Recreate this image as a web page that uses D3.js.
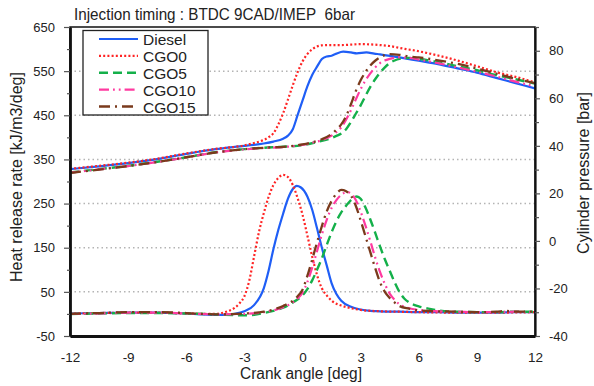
<!DOCTYPE html>
<html>
<head>
<meta charset="utf-8">
<script src="https://cdn.jsdelivr.net/npm/d3@7"></script>
<style>
  html, body { margin: 0; padding: 0; background: #fff; }
  svg { display: block; font-family: Arial, "Liberation Sans", sans-serif; }
</style>
</head>
<body>
<svg id="chart" width="594" height="386"></svg>
<script>
// ---- Data: crank angle [deg] vs heat release rate [kJ/m3/deg] ----
const seriesNames = ["Diesel", "CGO0", "CGO5", "CGO10", "CGO15"];

const hrrDiesel = [[-12,1],[-10.5,2],[-9,3],[-7.5,3],[-6,1],[-4.5,-2],[-4,-2],[-3.5,0],[-3,6],[-2.5,20],[-2,58],[-1.75,98],[-1.5,147],[-1.25,190],[-1,227],[-0.75,261],[-0.5,283],[-0.3,290],[-0.1,287],[0.25,266],[0.5,236],[0.75,194],[1,150],[1.25,110],[1.5,70],[1.75,45],[2,30],[2.5,16],[3,10],[3.5,7],[4,6],[5,5],[6,4],[7,4],[8,3],[9,3],[10,3],[11,4],[12,4]];
const hrrCGO0 = [[-12,1],[-10.5,2],[-9,3],[-7.5,3],[-6,1],[-4.5,0],[-4,4],[-3.75,8],[-3.5,14],[-3.25,24],[-3,40],[-2.75,75],[-2.5,130],[-2.25,185],[-2,228],[-1.75,265],[-1.5,292],[-1.25,308],[-1,315],[-0.75,310],[-0.5,292],[-0.25,262],[0,225],[0.25,178],[0.5,130],[0.75,88],[1,58],[1.25,42],[1.5,30],[2,19],[2.5,13],[3,9],[4,6],[5,5],[6,4],[8,3],[10,3],[12,4]];
const hrrCGO5 = [[-12,0],[-10.5,1],[-9,2],[-7.5,2],[-6,1],[-4.5,-1],[-3,-3],[-2.5,-2],[-2,2],[-1.5,7],[-1,14],[-0.5,26],[0,42],[0.25,56],[0.5,76],[0.75,100],[1,126],[1.25,156],[1.5,185],[1.75,210],[2,230],[2.25,245],[2.5,258],[2.8,266],[3,261],[3.25,241],[3.5,214],[3.75,184],[4,153],[4.25,124],[4.5,98],[4.75,72],[5,50],[5.25,35],[5.5,26],[6,17],[6.5,12],[7,8],[8,5],[9,4],[10,4],[11,5],[12,5]];
const hrrCGO10 = [[-12,0],[-10.5,1],[-9,3],[-7.5,3],[-6,1],[-4.5,-1],[-3,0],[-2,4],[-1.5,8],[-1,15],[-0.5,26],[-0.25,35],[0,48],[0.25,72],[0.5,105],[0.75,142],[1,180],[1.25,213],[1.5,240],[1.75,258],[2,270],[2.3,276],[2.5,273],[2.75,258],[3,232],[3.25,200],[3.5,165],[3.75,128],[4,95],[4.25,68],[4.5,46],[4.75,32],[5,22],[5.5,13],[6,9],[7,6],[8,5],[9,4],[10,4],[11,5],[12,4]];
const hrrCGO15 = [[-12,0],[-10.5,2],[-9,4],[-7.5,4],[-6,2],[-4.5,-1],[-3,1],[-2,5],[-1.5,10],[-1,18],[-0.5,30],[-0.25,40],[0,55],[0.25,86],[0.5,123],[0.75,162],[1,199],[1.25,232],[1.5,256],[1.75,272],[2,281],[2.25,278],[2.5,268],[2.75,245],[3,212],[3.25,176],[3.5,140],[3.75,104],[4,72],[4.25,50],[4.5,36],[4.75,26],[5,18],[5.5,12],[6,8],[7,6],[8,5],[9,4],[10,5],[10.5,7],[11,5],[12,5]];

// ---- Data: crank angle [deg] vs cylinder pressure [bar] ----
const pDiesel = [[-12,30.2],[-10.5,31.4],[-9,32.7],[-7.5,34.4],[-6,36.6],[-4.5,38.6],[-3,40],[-2,41],[-1.5,41.8],[-1,43],[-0.75,44.3],[-0.5,47],[-0.25,53],[0,59],[0.25,65],[0.5,69.8],[0.75,73.3],[1,76.5],[1.25,77.6],[1.5,77.9],[1.75,78.8],[2.1,79.6],[2.5,79.3],[2.8,78.9],[3.3,79.3],[3.7,78.8],[4,78.5],[5,77.2],[6,75.8],[7,74.4],[8,72.6],[9,70.8],[10,68.6],[11,66.4],[12,64.2]];
const pCGO0 = [[-12,30.3],[-10.5,31.6],[-9,32.9],[-7.5,34.6],[-6,36.8],[-4.5,38.7],[-3,40.2],[-2.5,41.2],[-2,42.5],[-1.75,43.6],[-1.5,45.3],[-1.25,49],[-1,53.7],[-0.75,59.5],[-0.5,65.5],[-0.25,71],[0,75.5],[0.25,78.6],[0.5,80.6],[0.75,81.8],[1,82.3],[1.5,82.4],[2,82.4],[3,82.8],[4,82.4],[4.5,82],[5,81.2],[6,79.8],[7,78],[8,75.9],[9,73.5],[10,71],[11,69],[12,66.7]];
const pCGO5 = [[-12,28.8],[-10.5,30.2],[-9,31.6],[-7.5,33.3],[-6,35.2],[-4.5,37.3],[-3,38.6],[-2,39.2],[-1,39.6],[0,40.3],[0.75,41.6],[1.25,42.6],[1.75,44.2],[2,45.2],[2.25,47],[2.5,50],[2.75,53.5],[3,57],[3.25,61],[3.5,64.8],[3.75,68],[4,70.8],[4.25,73],[4.5,74.8],[4.75,75.9],[5,76.6],[5.5,77],[6,76.6],[7,75.2],[8,73.5],[9,71.8],[10,69.8],[11,68],[12,66.2]];
const pCGO10 = [[-12,28.7],[-10.5,30.1],[-9,31.5],[-7.5,33.2],[-6,35.1],[-4.5,37.2],[-3,38.5],[-2,39.1],[-1,39.5],[0,40.4],[0.5,41.3],[1,42.4],[1.5,44.3],[1.75,45.8],[2,47.8],[2.25,51],[2.5,55],[2.75,59.5],[3,63.8],[3.25,67.5],[3.5,70.5],[3.75,73],[4,74.8],[4.5,76.6],[5,77.2],[5.5,77],[6,76.3],[7,74.8],[8,73],[9,71.2],[10,69.2],[11,67],[12,65]];
const pCGO15 = [[-12,28.6],[-10.5,30],[-9,31.5],[-7.5,33.2],[-6,35.2],[-4.5,37.2],[-3,38.6],[-2,39.2],[-1,39.6],[0,40.6],[0.5,41.5],[1,42.8],[1.5,45],[1.75,46.8],[2,49],[2.25,52.5],[2.5,57.5],[2.75,63],[3,67.6],[3.25,71],[3.5,73.8],[3.75,75.8],[4,77.2],[4.5,78.6],[5,78.3],[5.5,77.6],[6,77.2],[7,76],[8,74.5],[9,72.5],[10,70.4],[11,68.2],[12,66.4]];

// ---- Tick labels ----
const angleTicks = [-12, -9, -6, -3, 0, 3, 6, 9, 12];
const hrrTicks = [-50, 50, 150, 250, 350, 450, 550, 650];
const hrrMinorTicks = [0, 100, 200, 300, 400, 500, 600];
const pressureTicks = [-40, -20, 0, 20, 40, 60, 80];
const pressureMinorTicks = [-30, -10, 10, 30, 50, 70, 90];

// ---- Styles per series ----
const styles = {
  Diesel: { color: "#1f5ef6", dash: null, width: 2.2 },
  CGO0:   { color: "#ff2424", dash: "2,2.2", width: 2.2 },
  CGO5:   { color: "#14b04a", dash: "9,5", width: 2.4 },
  CGO10:  { color: "#ff3aa0", dash: "10,4,1.8,4,1.8,4", width: 2.2 },
  CGO15:  { color: "#7a3a1c", dash: "11,5,2,5", width: 2.3 }
};
const hrrData = { Diesel: hrrDiesel, CGO0: hrrCGO0, CGO5: hrrCGO5, CGO10: hrrCGO10, CGO15: hrrCGO15 };
const pData = { Diesel: pDiesel, CGO0: pCGO0, CGO5: pCGO5, CGO10: pCGO10, CGO15: pCGO15 };

// Plain hyphen-minus labels
const fmt = d => String(d);

// ---- Layout ----
const plot = { left: 70, right: 535, top: 27, bottom: 336 };
const svg = d3.select("#chart");

const x = d3.scaleLinear().domain([-12, 12]).range([plot.left, plot.right]);
const yHRR = d3.scaleLinear().domain([-50, 650]).range([plot.bottom, plot.top]);
const yP = d3.scaleLinear().domain([-40, 90]).range([plot.bottom, plot.top]);

// Gridlines (dotted, on heat release rate ticks)
svg.append("g").selectAll("line")
  .data(hrrTicks.filter(v => v > -50 && v < 650))
  .join("line")
  .attr("x1", plot.left).attr("x2", plot.right)
  .attr("y1", d => yHRR(d)).attr("y2", d => yHRR(d))
  .attr("stroke", "#b4b4b4").attr("stroke-width", 1.5)
  .attr("stroke-dasharray", "1.5,3");

// Clip for data lines
svg.append("defs").append("clipPath").attr("id", "plotClip")
  .append("rect")
  .attr("x", plot.left).attr("y", plot.top)
  .attr("width", plot.right - plot.left).attr("height", plot.bottom - plot.top);

const lineHRR = d3.line().x(d => x(d[0])).y(d => yHRR(d[1])).curve(d3.curveMonotoneX);
const lineP = d3.line().x(d => x(d[0])).y(d => yP(d[1])).curve(d3.curveMonotoneX);

const lines = svg.append("g").attr("clip-path", "url(#plotClip)");
seriesNames.forEach(name => {
  const s = styles[name];
  [[pData[name], lineP], [hrrData[name], lineHRR]].forEach(([data, gen]) => {
    lines.append("path")
      .attr("d", gen(data))
      .attr("fill", "none")
      .attr("stroke", s.color)
      .attr("stroke-width", s.width)
      .attr("stroke-dasharray", s.dash)
      .attr("stroke-linejoin", "round");
  });
});

// Frame
svg.append("rect")
  .attr("x", plot.left).attr("y", plot.top)
  .attr("width", plot.right - plot.left).attr("height", plot.bottom - plot.top)
  .attr("fill", "none").attr("stroke", "#111").attr("stroke-width", 1.5);

// Left axis
const leftAxis = svg.append("g").attr("transform", `translate(${plot.left},0)`)
  .call(d3.axisLeft(yHRR).tickValues(hrrTicks).tickSize(6).tickSizeOuter(0).tickFormat(fmt));
leftAxis.select(".domain").attr("stroke", "#111").attr("stroke-width", 2.8);
leftAxis.selectAll(".tick line").attr("stroke", "#555").attr("stroke-width", 1.2);
leftAxis.selectAll(".tick text").attr("x", -15).attr("font-size", 13)
  .attr("font-family", "Arial, 'Liberation Sans', sans-serif").attr("fill", "#222");
svg.append("g").attr("transform", `translate(${plot.left},0)`)
  .call(d3.axisLeft(yHRR).tickValues(hrrMinorTicks).tickSize(3).tickFormat(""))
  .call(g => g.select(".domain").remove())
  .selectAll("line").attr("stroke", "#555").attr("stroke-width", 1.2);

// Right axis
const rightAxis = svg.append("g").attr("transform", `translate(${plot.right},0)`)
  .call(d3.axisRight(yP).tickValues(pressureTicks).tickSize(5).tickSizeOuter(0).tickFormat(fmt));
rightAxis.select(".domain").attr("stroke", "#111").attr("stroke-width", 2.2);
rightAxis.selectAll(".tick line").attr("stroke", "#555").attr("stroke-width", 1.2);
rightAxis.selectAll(".tick text").attr("x", 14).attr("font-size", 13)
  .attr("font-family", "Arial, 'Liberation Sans', sans-serif").attr("fill", "#222");
svg.append("g").attr("transform", `translate(${plot.right},0)`)
  .call(d3.axisRight(yP).tickValues(pressureMinorTicks).tickSize(4).tickFormat(""))
  .call(g => g.select(".domain").remove())
  .selectAll("line").attr("stroke", "#555").attr("stroke-width", 1.2);

// Bottom axis
const bottomAxis = svg.append("g").attr("transform", `translate(0,${plot.bottom})`)
  .call(d3.axisBottom(x).tickValues(angleTicks).tickSize(0).tickSizeOuter(0).tickPadding(16).tickFormat(fmt));
bottomAxis.select(".domain").attr("stroke", "#111").attr("stroke-width", 2.8);
bottomAxis.selectAll(".tick text").attr("font-size", 13.5)
  .attr("font-family", "Arial, 'Liberation Sans', sans-serif").attr("fill", "#222");

// Axis titles
svg.append("text")
  .attr("transform", `translate(22,177) rotate(-90)`)
  .attr("text-anchor", "middle").attr("font-size", 16).attr("fill", "#222")
  .text("Heat release rate [kJ/m3/deg]");
svg.append("text")
  .attr("transform", `translate(589,173) rotate(-90)`)
  .attr("text-anchor", "middle").attr("font-size", 16).attr("fill", "#222")
  .text("Cylinder pressure [bar]");
svg.append("text")
  .attr("x", 301).attr("y", 379)
  .attr("text-anchor", "middle").attr("font-size", 16).attr("fill", "#222")
  .attr("textLength", 122).attr("lengthAdjust", "spacingAndGlyphs")
  .text("Crank angle [deg]");

// Title
svg.append("text")
  .attr("x", 74).attr("y", 20)
  .attr("font-size", 16.5).attr("fill", "#222")
  .attr("textLength", 281).attr("lengthAdjust", "spacingAndGlyphs")
  .text("Injection timing\u00a0: BTDC 9CAD/IMEP\u00a0\u00a06bar");

// Legend
const legend = svg.append("g");
legend.append("rect")
  .attr("x", 83).attr("y", 30.5).attr("width", 125).attr("height", 84.5)
  .attr("fill", "#fff").attr("stroke", "#222").attr("stroke-width", 1.3);
const legendRowY = d3.scalePoint().domain(seriesNames).range([39, 106.5]);
seriesNames.forEach(name => {
  const s = styles[name];
  const yy = legendRowY(name);
  legend.append("line")
    .attr("x1", 99).attr("x2", 138).attr("y1", yy).attr("y2", yy)
    .attr("stroke", s.color).attr("stroke-width", s.width)
    .attr("stroke-dasharray", s.dash);
  legend.append("text")
    .attr("x", 143).attr("y", yy + 6)
    .attr("font-size", 15.5).attr("fill", "#222")
    .text(name);
});
</script>
</body>
</html>
